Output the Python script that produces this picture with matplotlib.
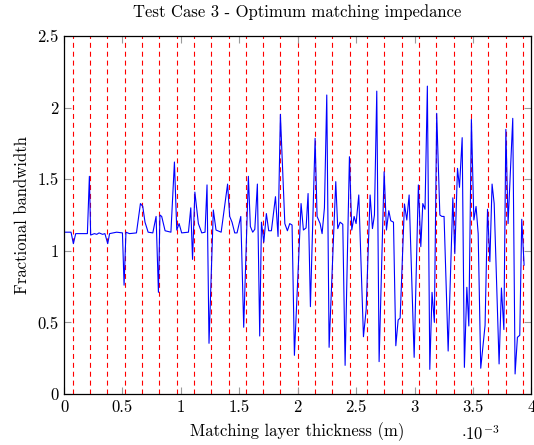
import matplotlib
matplotlib.use("Agg")
import matplotlib.pyplot as plt

plt.rcParams["font.family"] = "serif"
plt.rcParams["font.serif"] = ["cmr10", "DejaVu Serif"]
plt.rcParams["mathtext.fontset"] = "cm"
plt.rcParams["axes.formatter.use_mathtext"] = True

# matching layer thickness, in units of 1e-3 m
thickness = [
    0.00, 0.06, 0.08, 0.10, 0.13, 0.20, 0.217, 0.228, 0.26, 0.28, 0.30, 0.33, 0.35,
    0.374, 0.39, 0.42, 0.45, 0.50, 0.514, 0.53, 0.56, 0.62, 0.654, 0.674, 0.693,
    0.72, 0.76, 0.788, 0.808, 0.821, 0.836, 0.865, 0.915, 0.945, 0.965, 0.985,
    1.007, 1.065, 1.085, 1.10, 1.12, 1.15, 1.179, 1.207, 1.224, 1.241, 1.278,
    1.301, 1.345, 1.40, 1.418, 1.438, 1.461, 1.481, 1.513, 1.538, 1.578, 1.595,
    1.615, 1.633, 1.655, 1.675, 1.69, 1.71, 1.732, 1.752, 1.775, 1.81, 1.832,
    1.852, 1.89, 1.912, 1.932, 1.952, 1.972, 2.029, 2.049, 2.072, 2.089, 2.109,
    2.149, 2.166, 2.192, 2.209, 2.229, 2.249, 2.269, 2.326, 2.343, 2.363, 2.386,
    2.406, 2.443, 2.463, 2.483, 2.50, 2.523, 2.563, 2.586, 2.62, 2.64, 2.657,
    2.677, 2.697, 2.74, 2.76, 2.78, 2.797, 2.82, 2.84, 2.86, 2.877, 2.914, 2.934,
    2.954, 2.997, 3.033, 3.054, 3.071, 3.09, 3.11, 3.131, 3.15, 3.17, 3.19,
    3.217, 3.234, 3.253, 3.288, 3.328, 3.345, 3.368, 3.385, 3.408, 3.427, 3.448,
    3.465, 3.487, 3.508, 3.527, 3.545, 3.567, 3.604, 3.625, 3.645, 3.664, 3.682,
    3.724, 3.744, 3.765, 3.782, 3.801, 3.841, 3.861, 3.881, 3.901, 3.918, 3.938,
]
bandwidth = [
    1.13, 1.13, 1.05, 1.12, 1.12, 1.12, 1.52, 1.11, 1.12, 1.115, 1.125, 1.115, 1.12,
    1.05, 1.12, 1.125, 1.13, 1.125, 0.76, 1.13, 1.12, 1.125, 1.33, 1.31, 1.20,
    1.13, 1.125, 1.24, 0.71, 1.25, 1.24, 1.14, 1.13, 1.62, 1.145, 1.19,
    1.125, 1.13, 1.30, 0.94, 1.41, 1.19, 1.125, 1.13, 1.46, 0.354, 1.285,
    1.145, 1.13, 1.466, 1.24, 1.20, 1.125, 1.125, 1.24, 0.466, 1.52, 1.17,
    1.13, 1.15, 1.466, 0.405, 1.20, 1.06, 1.26, 1.14, 1.14, 1.378, 1.10,
    1.953, 1.19, 1.14, 1.19, 1.18, 0.27, 1.33, 1.145, 1.16, 1.40, 0.61,
    1.785, 1.24, 1.19, 1.12, 1.30, 2.088, 0.326, 1.483, 1.155, 1.20, 1.185,
    0.20, 1.657, 1.145, 1.24, 1.19, 1.39, 0.40, 0.587, 1.39, 1.155, 1.25,
    2.115, 0.226, 1.552, 1.145, 1.28, 1.21, 1.20, 0.337, 0.517, 0.53, 1.327, 1.215,
    1.39, 0.256, 1.46, 1.029, 1.33, 1.29, 2.15, 0.172, 0.71, 0.50, 1.96,
    1.25, 1.24, 1.24, 0.30, 1.37, 0.98, 1.576, 1.443, 1.79, 0.186, 0.745,
    0.475, 1.918, 1.215, 1.31, 1.12, 0.18, 0.48, 1.29, 0.924, 1.466, 1.33,
    0.21, 0.74, 0.45, 1.848, 1.19, 1.925, 0.14, 0.396, 0.41, 1.22, 0.90,
]

# quarter-wave marker lines: odd multiples of 0.0741e-3 m
quarter_wave = 0.0741
marker_lines = [k * quarter_wave for k in range(1, 54, 2)]

xticks = [0, 0.5, 1, 1.5, 2, 2.5, 3, 3.5, 4]
xtick_labels = ["0", "0.5", "1", "1.5", "2", "2.5", "3", "3.5", "4"]
yticks = [0, 0.5, 1, 1.5, 2, 2.5]
ytick_labels = ["0", "0.5", "1", "1.5", "2", "2.5"]

fig = plt.figure(figsize=(5.34, 4.45), dpi=100)
ax = fig.add_axes([0.1199, 0.1146, 0.8751, 0.8045])

for xv in marker_lines:
    ax.axvline(xv, color="red", lw=0.8, dashes=(4.5, 3.5), zorder=1)

ax.plot(thickness, bandwidth, color="blue", lw=0.8, zorder=2)

ax.set_xlim(0, 4)
ax.set_ylim(0, 2.5)
ax.set_xticks(xticks)
ax.set_xticklabels(xtick_labels)
ax.set_yticks(yticks)
ax.set_yticklabels(ytick_labels)
ax.tick_params(direction="in", length=5, width=0.8, color="#9a9a9a",
               top=True, right=True, labelsize=12, pad=4)
for sp in ax.spines.values():
    sp.set_linewidth(0.9)

ax.set_xlabel("Matching layer thickness (m)", fontsize=12, labelpad=5)
ax.set_ylabel("Fractional bandwidth", fontsize=12, labelpad=5)
fig.text(0.557, 0.972, "Test Case 3 - Optimum matching impedance",
         ha="center", va="center", fontsize=12)
fig.text(0.90, 0.026, r"$\cdot 10^{-3}$", ha="center", va="center", fontsize=12)

fig.savefig("out.png", dpi=100)
